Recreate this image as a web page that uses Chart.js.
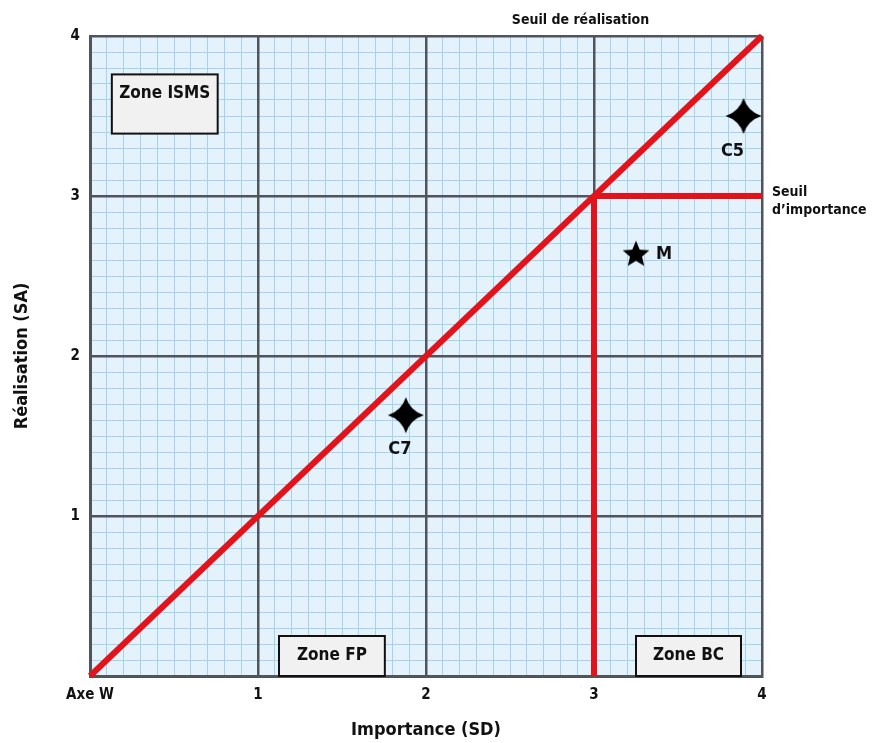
<!DOCTYPE html>
<html>
<head>
<meta charset="utf-8">
<script src="https://cdn.jsdelivr.net/npm/chart.js@4.4.0/dist/chart.umd.min.js"></script>
<style>
  body { margin: 0; background: #fff; }
  #wrap { width: 872px; height: 743px; }
</style>
</head>
<body>
<div id="wrap"><canvas id="chartMatrice"></canvas></div>
<script>
// Graduations des axes
const axeTicks = [0, 1, 2, 3, 4];
const xTickLabels = ['Axe W', '1', '2', '3', '4'];
const yTickLabels = ['', '1', '2', '3', '4'];

// Points
const pointNoms = ['C5', 'M', 'C7'];
const pointImportance = [3.89, 3.25, 1.88];   // SD
const pointRealisation = [3.5, 2.64, 1.63];   // SA
const pointFormes = ['etoile4', 'etoile5', 'etoile4'];

// Droites de seuil
const diagonaleX = [0, 4];
const diagonaleY = [0, 4];
const seuilImportanceX = [3, 4];
const seuilImportanceY = [3, 3];
const seuilRealisationX = [3, 3];
const seuilRealisationY = [0, 3];

// Zones
const zoneNoms = ['Zone ISMS', 'Zone FP', 'Zone BC'];

const FONT = "'Liberation Sans Narrow', 'DejaVu Sans Condensed', 'Roboto Condensed', sans-serif";
const ROUGE = '#e3131b';
const GRIS = '#50555b';

// formes des etoiles
function etoile4(r) {
  const c = document.createElement('canvas');
  c.width = c.height = r * 2 + 2;
  const g = c.getContext('2d');
  const m = r + 1, k = r * 0.24;
  g.fillStyle = '#000';
  g.beginPath();
  g.moveTo(m, m - r);
  g.quadraticCurveTo(m + k, m - k, m + r, m);
  g.quadraticCurveTo(m + k, m + k, m, m + r);
  g.quadraticCurveTo(m - k, m + k, m - r, m);
  g.quadraticCurveTo(m - k, m - k, m, m - r);
  g.fill();
  return c;
}
function etoile5(r) {
  const c = document.createElement('canvas');
  c.width = c.height = r * 2 + 2;
  const g = c.getContext('2d');
  const m = r + 1, ri = r * 0.45;
  g.fillStyle = '#000';
  g.beginPath();
  for (let i = 0; i < 10; i++) {
    const a = -Math.PI / 2 + i * Math.PI / 5;
    const rr = i % 2 ? ri : r;
    g.lineTo(m + rr * Math.cos(a), m + 1 + rr * Math.sin(a));
  }
  g.closePath();
  g.fill();
  return c;
}
const formes = { etoile4: etoile4(18), etoile5: etoile5(14) };

const toXY = (xs, ys) => xs.map((x, i) => ({ x: x, y: ys[i] }));

// fond bleu de la zone de tracé
const fondPlugin = {
  id: 'fond',
  beforeDraw(chart) {
    const { ctx, chartArea: a } = chart;
    ctx.save();
    ctx.fillStyle = '#e4f2fb';
    ctx.fillRect(a.left, a.top, a.right - a.left, a.bottom - a.top);
    ctx.restore();
  }
};

// encadrés des zones
const zoneCadres = [
  { x0: 0.13, x1: 0.76, y0: 3.39, y1: 3.76, ty: 3.64 },
  { x0: 1.125, x1: 1.755, y0: 0, y1: 0.25, ty: 0.125 },
  { x0: 3.25, x1: 3.875, y0: 0, y1: 0.25, ty: 0.125 }
];
const zonesPlugin = {
  id: 'zones',
  beforeDatasetsDraw(chart) {
    const { ctx, scales: { x, y } } = chart;
    ctx.save();
    zoneCadres.forEach((z, i) => {
      const l = x.getPixelForValue(z.x0), r = x.getPixelForValue(z.x1);
      const t = y.getPixelForValue(z.y1), b = y.getPixelForValue(z.y0);
      ctx.fillStyle = '#f1f1f1';
      ctx.fillRect(l, t, r - l, b - t);
      ctx.strokeStyle = '#111';
      ctx.lineWidth = 2;
      ctx.strokeRect(l, t, r - l, b - t);
      ctx.fillStyle = '#111';
      ctx.font = 'bold 17px ' + FONT;
      ctx.textAlign = 'center';
      ctx.textBaseline = 'middle';
      ctx.fillText(zoneNoms[i], (l + r) / 2, y.getPixelForValue(z.ty));
    });
    ctx.restore();
  }
};

// étiquettes des points et textes des seuils
const labelOffsets = { C5: [-11, 35, 'center'], M: [20, 1, 'left'], C7: [-6, 34, 'center'] };
const textesPlugin = {
  id: 'textes',
  afterDatasetsDraw(chart) {
    const { ctx, chartArea: a, scales: { x, y } } = chart;
    const meta = chart.getDatasetMeta(3);
    ctx.save();
    ctx.fillStyle = '#111';
    ctx.textBaseline = 'middle';
    ctx.font = 'bold 18px ' + FONT;
    meta.data.forEach((pt, i) => {
      const o = labelOffsets[pointNoms[i]];
      ctx.textAlign = o[2];
      ctx.fillText(pointNoms[i], pt.x + o[0], pt.y + o[1]);
    });
    ctx.font = 'bold 14px ' + FONT;
    ctx.textAlign = 'center';
    ctx.fillText('Seuil de réalisation', x.getPixelForValue(2.92), a.top - 16);
    ctx.textAlign = 'left';
    ctx.fillText('Seuil', a.right + 10, y.getPixelForValue(3) - 4);
    ctx.fillText('d\u2019importance', a.right + 10, y.getPixelForValue(3) + 14);
    ctx.restore();
  }
};

const ligne = (xs, ys) => ({
  type: 'line',
  data: toXY(xs, ys),
  borderColor: ROUGE,
  borderWidth: 6,
  pointRadius: 0,
  fill: false,
  clip: false
});

const ctxMatrice = document.getElementById('chartMatrice').getContext('2d');
const chartMatrice = new Chart(ctxMatrice, {
  type: 'scatter',
  data: {
    datasets: [
      ligne(diagonaleX, diagonaleY),
      ligne(seuilImportanceX, seuilImportanceY),
      ligne(seuilRealisationX, seuilRealisationY),
      {
        type: 'scatter',
        data: toXY(pointImportance, pointRealisation),
        pointStyle: pointFormes.map(f => formes[f]),
        pointRadius: 16,
        pointHoverRadius: 16
      }
    ]
  },
  options: {
    responsive: true,
    maintainAspectRatio: false,
    animation: false,
    events: [],
    layout: { padding: { top: 36, right: 110, bottom: 0, left: 0 } },
    plugins: {
      legend: { display: false },
      tooltip: { enabled: false }
    },
    scales: {
      // quadrillage fin (bleu)
      xm: {
        type: 'linear', position: 'bottom', min: 0, max: 4,
        ticks: { stepSize: 0.1, display: false, autoSkip: false },
        grid: { color: '#a3d3ef', lineWidth: 1, drawTicks: false, z: -2 },
        border: { display: false },
        afterFit: s => { s.height = 0; }
      },
      ym: {
        type: 'linear', position: 'left', min: 0, max: 4,
        ticks: { stepSize: 0.1, display: false, autoSkip: false },
        grid: { color: '#a3d3ef', lineWidth: 1, drawTicks: false, z: -2 },
        border: { display: false },
        afterFit: s => { s.width = 0; }
      },
      x: {
        type: 'linear', position: 'bottom', min: 0, max: 4,
        ticks: {
          stepSize: 1,
          padding: 10,
          color: '#111',
          font: { family: FONT, size: 15, weight: 'bold' },
          callback: v => xTickLabels[axeTicks.indexOf(v)] ?? ''
        },
        grid: { color: GRIS, lineWidth: 2.5, drawTicks: false, z: -1 },
        border: { display: true, color: GRIS, width: 3 },
        title: {
          display: true,
          text: 'Importance (SD)',
          color: '#111',
          font: { family: FONT, size: 18, weight: 'bold' },
          padding: { top: 0, bottom: 2 }
        },
        afterFit: s => { s.height = 67; }
      },
      y: {
        type: 'linear', position: 'left', min: 0, max: 4,
        ticks: {
          stepSize: 1,
          padding: 10,
          color: '#111',
          font: { family: FONT, size: 15, weight: 'bold' },
          callback: v => yTickLabels[axeTicks.indexOf(v)] ?? ''
        },
        grid: { color: GRIS, lineWidth: 2.5, drawTicks: false, z: -1 },
        border: { display: true, color: GRIS, width: 3 },
        title: {
          display: true,
          text: 'Réalisation (SA)',
          color: '#111',
          font: { family: FONT, size: 18, weight: 'bold' },
          padding: { top: 12, bottom: 0 }
        },
        afterFit: s => { s.width = 90; }
      }
    }
  },
  plugins: [fondPlugin, zonesPlugin, textesPlugin]
});
</script>
</body>
</html>
